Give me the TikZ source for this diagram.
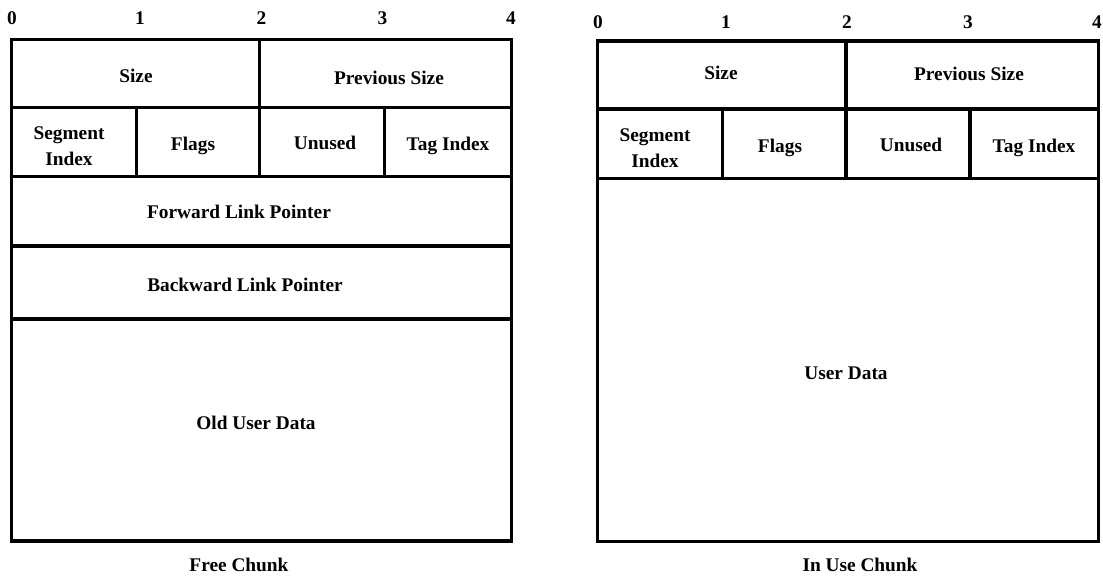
\documentclass[tikz,border=0pt]{standalone}
\usepackage{fontspec}
\setmainfont{Liberation Serif}
\tikzset{
  frame/.style={line width=2.5pt, line cap=rect},
  lbl/.style={font=\bfseries\fontsize{14.5}{19.5}\selectfont, align=center, inner sep=0pt},
  tick/.style={font=\bfseries\fontsize{14.5}{16}\selectfont, inner sep=0pt},
}
\begin{document}
\begin{tikzpicture}[x=0.75pt,y=-0.75pt]
\useasboundingbox (0,0) rectangle (1103,581);

% ---------- Free chunk ----------
\draw[frame] (11.5,39.5) rectangle (511.5,541);
\draw[frame] (11.5,107.5) -- (511.5,107.5);
\draw[frame] (11.5,176.5) -- (511.5,176.5);
\draw[frame] (11.5,246) -- (511.5,246);
\draw[frame] (11.5,319) -- (511.5,319);
\draw[frame] (259.5,39.5) -- (259.5,176.5);
\draw[frame] (136.5,107.5) -- (136.5,176.5);
\draw[frame] (384.5,107.5) -- (384.5,176.5);

\node[tick] (fz0) at (12,18.5) {0};
\node[tick] (fz1) at (140,18.5) {1};
\node[tick] (fz2) at (261.5,18.5) {2};
\node[tick] (fz3) at (382.5,18.5) {3};
\node[tick] (fz4) at (511,18.5) {4};

\node[lbl] (fsize) at (136,76) {Size};
\node[lbl] (fprev) at (389,78) {Previous Size};
\node[lbl] (fseg) at (69,146) {Segment\\Index};
\node[lbl] (fflags) at (193,146) {Flags};
\node[lbl] (funused) at (325,143) {Unused};
\node[lbl] (ftag) at (448,146) {Tag Index};
\node[lbl] (ffwd) at (239,212) {Forward Link Pointer};
\node[lbl] (fbwd) at (245,285) {Backward Link Pointer};
\node[lbl] (fold) at (256,423) {Old User Data};
\node[lbl] (fcap) at (239,565) {Free Chunk};

% ---------- In-use chunk ----------
\draw[frame] (597.5,41) rectangle (1098.5,541.5);
\draw[frame] (597.5,109) -- (1098.5,109);
\draw[frame] (597.5,178.5) -- (1098.5,178.5);
\draw[frame] (846,41) -- (846,178.5);
\draw[frame] (722.5,109) -- (722.5,178.5);
\draw[frame] (970,109) -- (970,178.5);

\node[tick] (uz0) at (598,22) {0};
\node[tick] (uz1) at (726,22) {1};
\node[tick] (uz2) at (847,22) {2};
\node[tick] (uz3) at (968,22) {3};
\node[tick] (uz4) at (1097,22) {4};

\node[lbl] (usize) at (721,73) {Size};
\node[lbl] (uprev) at (969,74) {Previous Size};
\node[lbl] (useg) at (655,148) {Segment\\Index};
\node[lbl] (uflags) at (780,148) {Flags};
\node[lbl] (uunused) at (911,145) {Unused};
\node[lbl] (utag) at (1034,148) {Tag Index};
\node[lbl] (udata) at (846,373) {User Data};
\node[lbl] (ucap) at (860,565) {In Use Chunk};
\end{tikzpicture}
\end{document}
